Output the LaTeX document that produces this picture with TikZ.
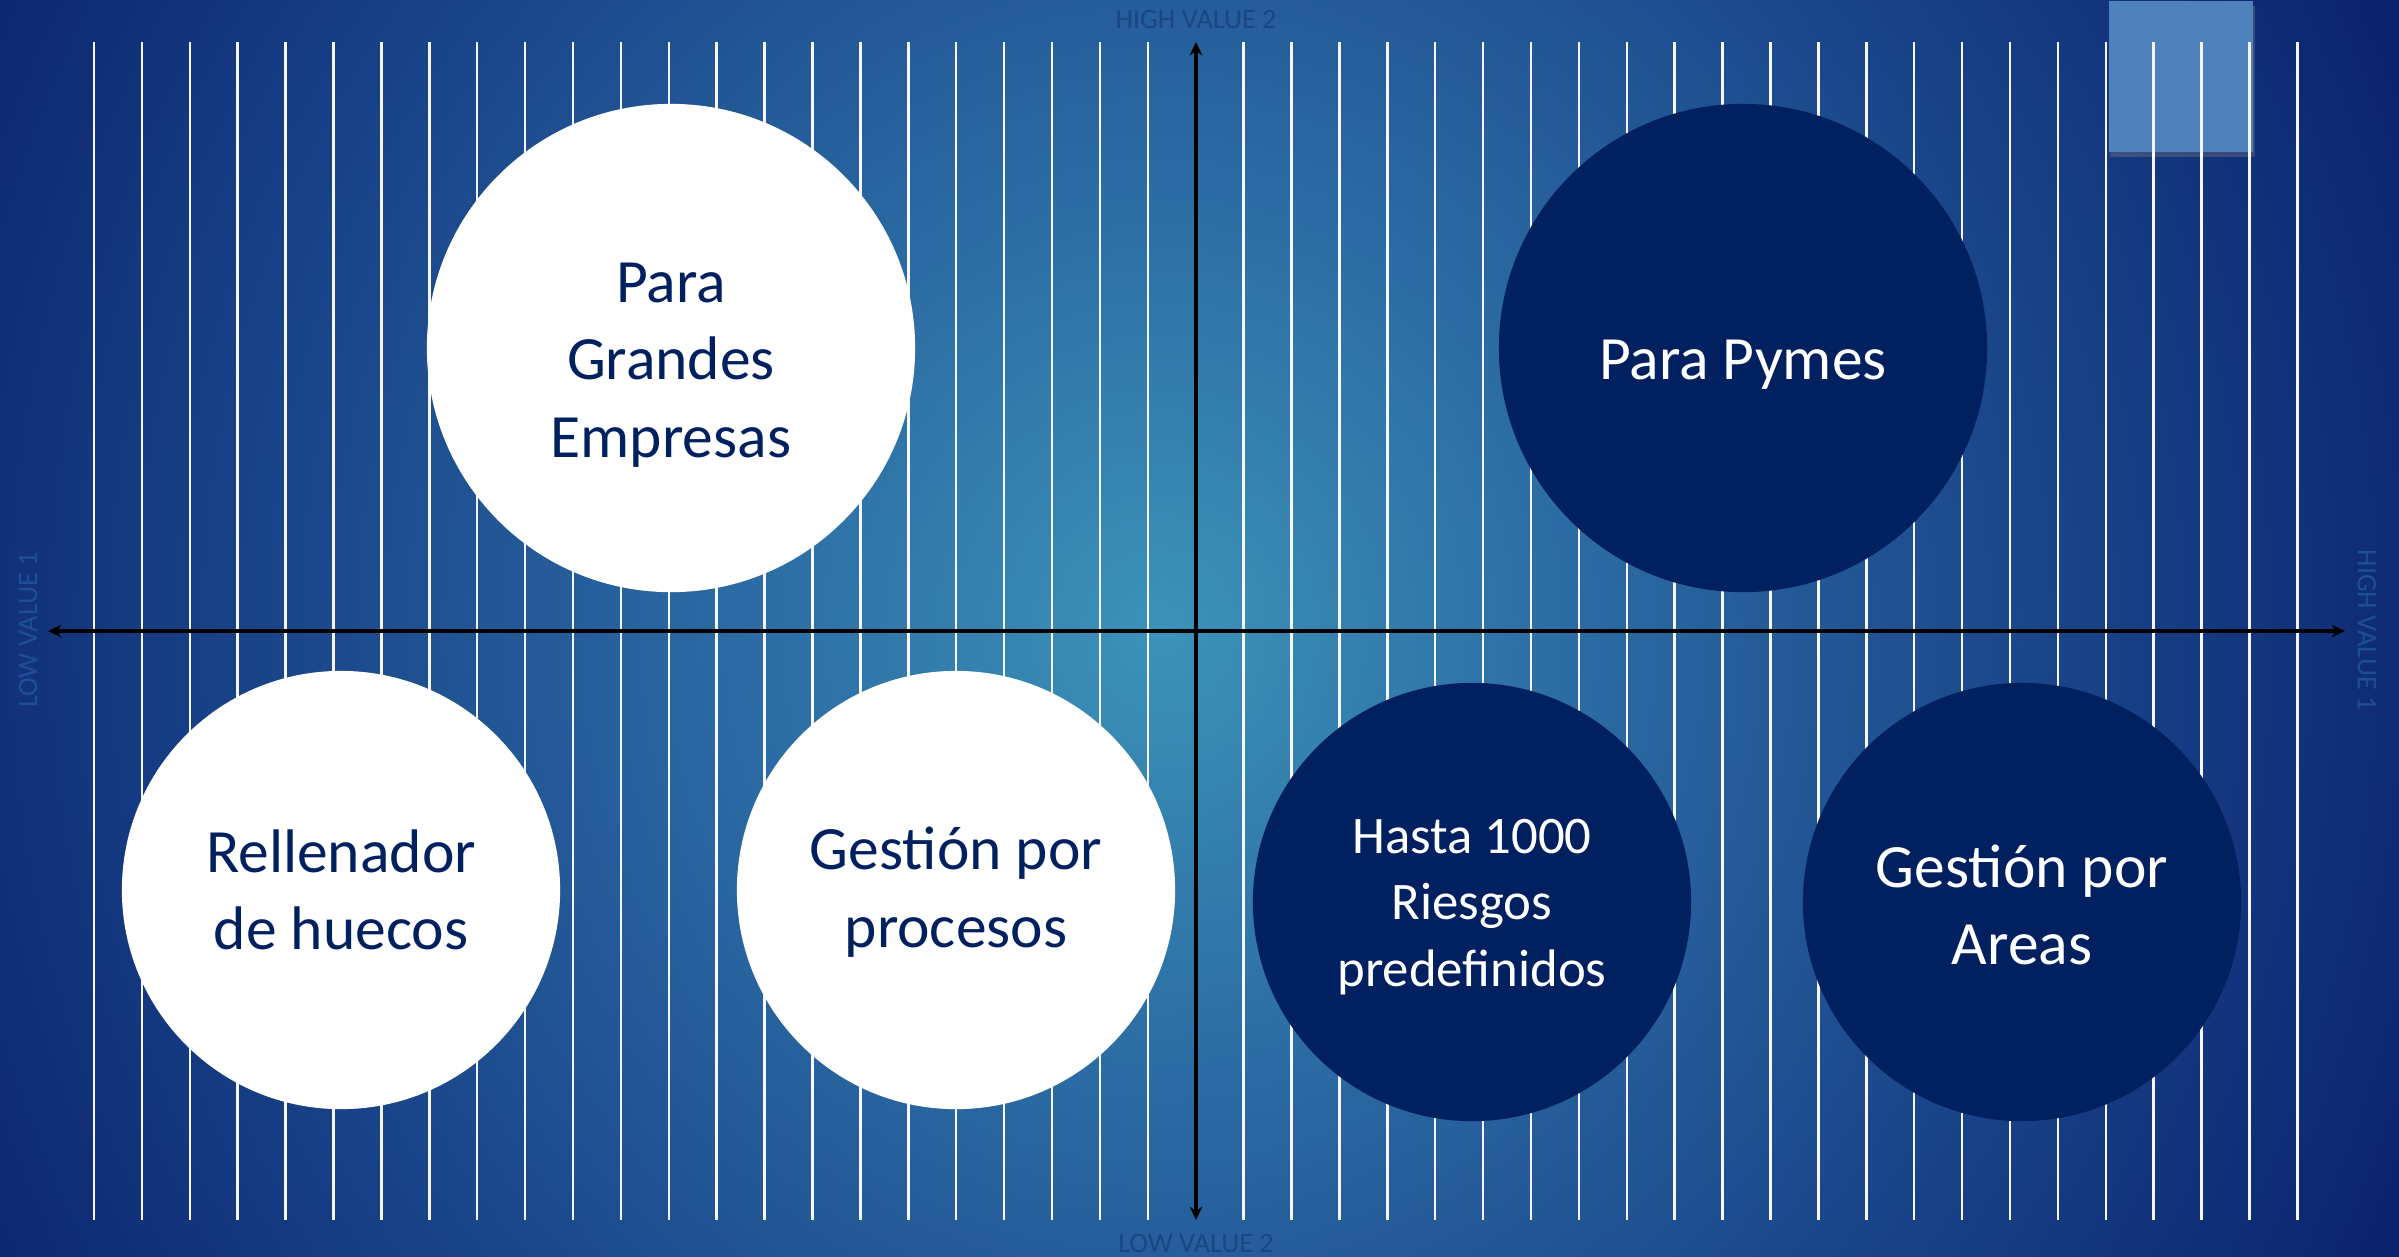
\documentclass[tikz,border=0pt]{standalone}
\usepackage{fontspec}
\setmainfont{Carlito}
\usetikzlibrary{arrows.meta, shadows}

\definecolor{bgin}{HTML}{3C93B8}
\definecolor{bgmid}{HTML}{2C6CA4}
\definecolor{bgdeep}{HTML}{1A468A}
\definecolor{bgout}{HTML}{0C2470}
\definecolor{navy}{HTML}{002060}
\definecolor{tabblue}{HTML}{4F81BD}
\definecolor{faint}{HTML}{1B4782}
\definecolor{sidefaint}{HTML}{1F4E98}

\pgfdeclareradialshading{glow}{\pgfpoint{0bp}{0bp}}{%
  color(0bp)=(bgin); color(7bp)=(bgmid); color(15bp)=(bgdeep); color(23bp)=(bgout); color(50bp)=(bgout)}

\tikzset{%
  bubble/.style={circle, inner sep=0mm},
  lightbubble/.style={bubble, fill=white},
  darkbubble/.style={bubble, fill=navy},
  bigbubble/.style={minimum size=4.88cm},
  smallbubble/.style={minimum size=4.38cm},
  bubbletext/.style={align=center, inner sep=0mm, font=\fontsize{17.5}{22}\selectfont},
  lighttext/.style={bubbletext, text=navy},
  darktext/.style={bubbletext, text=white},
  stripe/.style={white!94!gray, line width=0.7pt},
  axis/.style={line width=1.1pt, {Stealth[length=3.8pt,width=3.6pt]}-{Stealth[length=3.8pt,width=3.6pt]}},
  axislabel/.style={text=faint, font=\fontsize{8}{9}\selectfont, inner sep=0pt}
}

\begin{document}
\begin{tikzpicture}[x=0.01cm, y=-0.01cm]
  \useasboundingbox (0,0) rectangle (2399,1256);
  \begin{scope}
    \clip (0,0) rectangle (2399,1256);
    \fill[bgout] (0,0) rectangle (2399,1256);
    \shade[shading=glow] (1160,630) ellipse (1450 and 1556);
  \end{scope}

  \node[fill=tabblue, anchor=north west, inner sep=0mm, minimum width=1.44cm, minimum height=1.51cm,
        drop shadow={shadow xshift=0.5pt, shadow yshift=-1.5pt, opacity=0.35}] (tab) at (2108,0) {};

  \foreach \k in {0,...,46} {
    \ifnum\k=23\else
      \draw[stripe] ({94+47.9*\k},42) -- ({94+47.9*\k},1220);
    \fi
  }

  \coordinate (top) at (1196,42);
  \coordinate (bottom) at (1196,1220);
  \coordinate (left) at (48,631);
  \coordinate (right) at (2345,631);
  \draw[axis] (bottom) -- (top);
  \draw[axis] (left) -- (right);

  \node[axislabel] (hv2) at (1196,19) {HIGH VALUE 2};
  \node[axislabel] (lv2) at (1196,1243) {LOW VALUE 2};
  \node[axislabel, text=sidefaint, rotate=90] (lv1) at (28,630) {LOW VALUE 1};
  \node[axislabel, text=sidefaint, rotate=-90] (hv1) at (2367,630) {HIGH VALUE 1};

  \node[lightbubble, bigbubble] (grandes) at (671,348) {};
  \node[darkbubble, bigbubble] (pymes) at (1743,348) {};
  \node[lightbubble, smallbubble] (huecos) at (341,890) {};
  \node[lightbubble, smallbubble] (procesos) at (956,890) {};
  \node[darkbubble, smallbubble] (riesgos) at (1472,902) {};
  \node[darkbubble, smallbubble] (areas) at (2022,902) {};

  \node[lighttext] (grandestext) at ([yshift=-0.17cm]grandes.center) {Para\\Grandes\\Empresas};
  \node[darktext] (pymestext) at ([yshift=-0.17cm]pymes.center) {Para Pymes};
  \node[lighttext] (huecostext) at (huecos.center) {Rellenador\\de huecos};
  \node[lighttext] (procesostext) at ([yshift=-0.02cm]procesos.center) {Gestión por\\procesos};
  \node[darktext, font=\fontsize{15}{19}\selectfont] (riesgostext) at ([yshift=-0.05cm]riesgos.center) {Hasta 1000\\Riesgos\\predefinidos};
  \node[darktext] (areastext) at ([yshift=-0.03cm]areas.center) {Gestión por\\Areas};
\end{tikzpicture}
\end{document}
